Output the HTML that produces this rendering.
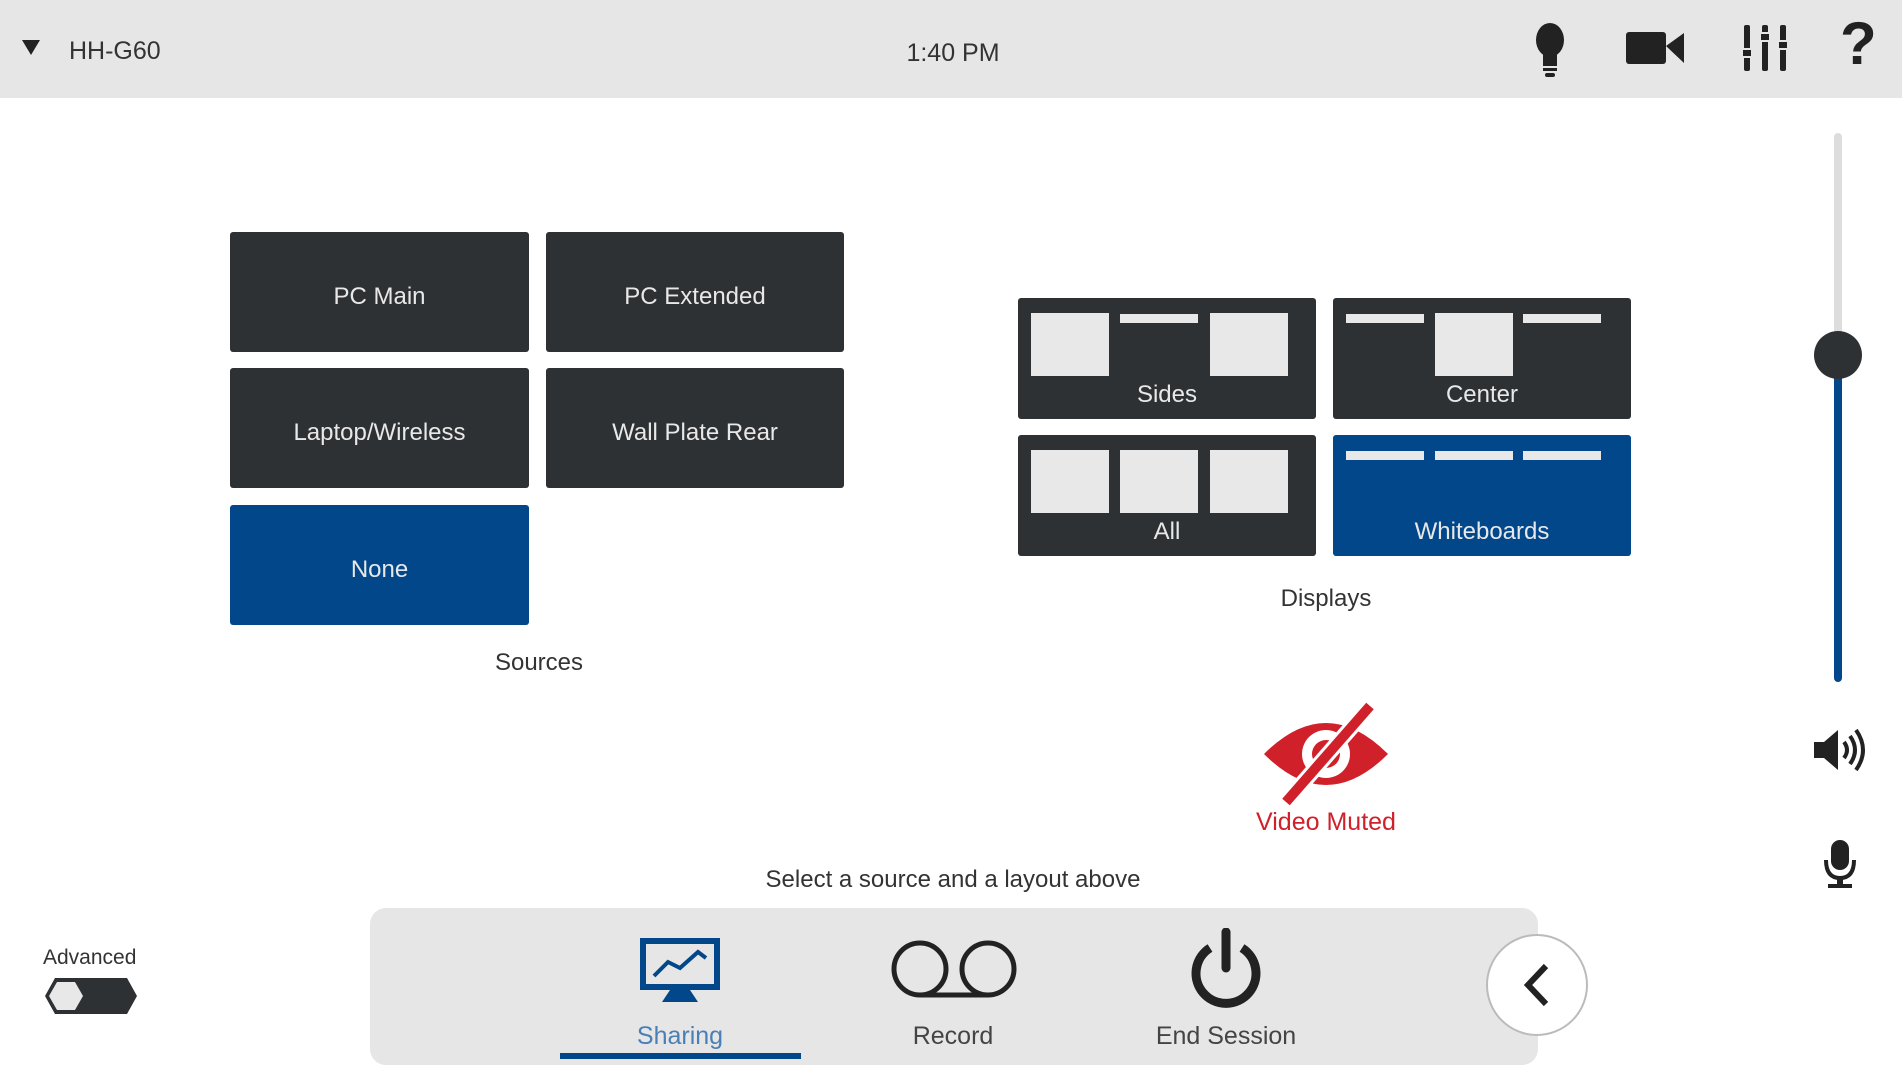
<!DOCTYPE html>
<html><head><meta charset="utf-8"><style>
*{margin:0;padding:0;box-sizing:border-box}
body{width:1902px;height:1076px;background:#fff;position:relative;overflow:hidden;font-family:"Liberation Sans",sans-serif;color:#333}
.abs{position:absolute}
.top{left:0;top:0;width:1902px;height:98px;background:#e6e6e6}
.btn{position:absolute;background:#2e3134;color:#e8e8e8;font-size:24px;display:flex;align-items:center;justify-content:center;border-radius:3px;padding-top:10px}
.blue{background:#02478a}
.d{position:absolute;background:#2e3134;border-radius:3px;width:298px;height:121px;color:#e8e8e8;font-size:24px}
.d.blue{background:#02478a}
.d .l{position:absolute;left:0;right:0;top:83px;text-align:center}
.sq{position:absolute;top:15px;width:78px;height:63px;background:#e8e8e8}
.bar{position:absolute;top:16px;width:78px;height:9px;background:#e8e8e8}
.lbl{position:absolute;font-size:24px;color:#333;text-align:center}
</style></head><body>
<div class="abs top"></div>
<div class="abs" style="left:22px;top:40px;width:0;height:0;border-left:9px solid transparent;border-right:9px solid transparent;border-top:15px solid #222"></div>
<div class="abs" style="left:69px;top:37px;font-size:25px;color:#333">HH-G60</div>
<div class="abs" style="left:853px;width:200px;text-align:center;top:39px;font-size:25px;color:#333">1:40 PM</div>
<svg class="abs" style="left:1530px;top:22px" width="40" height="56"><ellipse cx="20" cy="18" rx="14" ry="17" fill="#222"/><rect x="13" y="30" width="14" height="14" fill="#222"/><rect x="13" y="46" width="14" height="3" fill="#222"/><rect x="15" y="51" width="10" height="4" rx="2" fill="#222"/></svg>
<svg class="abs" style="left:1626px;top:30px" width="60" height="36"><rect x="0" y="2" width="40" height="32" rx="3" fill="#222"/><polygon points="40,16 58,3 58,33" fill="#222"/></svg>
<svg class="abs" style="left:1742px;top:25px" width="48" height="46" fill="#222"><rect x="2" y="0" width="6" height="46" rx="2"/><rect x="20" y="0" width="6" height="46" rx="2"/><rect x="38" y="0" width="6" height="46" rx="2"/><rect x="0" y="24" width="10" height="8" fill="#222" stroke="#e6e6e6" stroke-width="2"/><rect x="18" y="8" width="10" height="8" stroke="#e6e6e6" stroke-width="2"/><rect x="36" y="16" width="10" height="8" stroke="#e6e6e6" stroke-width="2"/></svg>
<div class="abs" style="left:1840px;top:14px;font-size:60px;font-weight:bold;color:#222;line-height:1">?</div>
<div class="btn" style="left:230px;top:232px;width:299px;height:120px">PC Main</div>
<div class="btn" style="left:546px;top:232px;width:298px;height:120px">PC Extended</div>
<div class="btn" style="left:230px;top:368px;width:299px;height:120px">Laptop/Wireless</div>
<div class="btn" style="left:546px;top:368px;width:298px;height:120px">Wall Plate Rear</div>
<div class="btn blue" style="left:230px;top:505px;width:299px;height:120px">None</div>
<div class="lbl" style="left:439px;width:200px;top:649px">Sources</div>
<div class="d" style="left:1018px;top:298px"><div class="sq" style="left:13px"></div><div class="bar" style="left:102px"></div><div class="sq" style="left:192px"></div><div class="l">Sides</div></div>
<div class="d" style="left:1333px;top:298px"><div class="bar" style="left:13px"></div><div class="sq" style="left:102px"></div><div class="bar" style="left:190px"></div><div class="l">Center</div></div>
<div class="d" style="left:1018px;top:435px"><div class="sq" style="left:13px"></div><div class="sq" style="left:102px"></div><div class="sq" style="left:192px"></div><div class="l">All</div></div>
<div class="d blue" style="left:1333px;top:435px"><div class="bar" style="left:13px"></div><div class="bar" style="left:102px"></div><div class="bar" style="left:190px"></div><div class="l">Whiteboards</div></div>
<div class="lbl" style="left:1226px;width:200px;top:585px">Displays</div>
<svg class="abs" style="left:1262px;top:702px" width="128" height="104"><path d="M2 52 Q64 -10 126 52 Q64 114 2 52Z" fill="#d0202a"/><circle cx="64" cy="52" r="24" fill="#fff"/><circle cx="64" cy="52" r="14" fill="#d0202a"/><line x1="108" y1="4" x2="24" y2="100" stroke="#fff" stroke-width="16"/><line x1="108" y1="4" x2="24" y2="100" stroke="#d0202a" stroke-width="10"/></svg>
<div class="abs" style="left:1176px;width:300px;text-align:center;top:808px;font-size:25px;color:#d0202a">Video Muted</div>
<div class="lbl" style="left:653px;width:600px;top:866px">Select a source and a layout above</div>
<div class="abs" style="left:370px;top:908px;width:1168px;height:157px;background:#e6e6e6;border-radius:16px"></div>
<svg class="abs" style="left:640px;top:938px" width="80" height="64"><rect x="3" y="3" width="74" height="46" fill="none" stroke="#02478a" stroke-width="6"/><polyline points="14,38 28,24 40,30 58,14 66,20" fill="none" stroke="#02478a" stroke-width="4"/><polygon points="30,52 50,52 58,64 22,64" fill="#02478a"/></svg>
<div class="abs" style="left:580px;width:200px;text-align:center;top:1022px;font-size:25px;color:#4a7fb5">Sharing</div>
<div class="abs" style="left:560px;top:1053px;width:241px;height:6px;background:#02478a"></div>
<svg class="abs" style="left:890px;top:938px" width="128" height="62"><circle cx="30" cy="31" r="26" fill="none" stroke="#222" stroke-width="5"/><circle cx="98" cy="31" r="26" fill="none" stroke="#222" stroke-width="5"/><line x1="30" y1="57" x2="98" y2="57" stroke="#222" stroke-width="5"/></svg>
<div class="abs" style="left:853px;width:200px;text-align:center;top:1022px;font-size:25px;color:#444">Record</div>
<svg class="abs" style="left:1188px;top:928px" width="76" height="82"><path d="M22 20 A30 30 0 1 0 54 20" fill="none" stroke="#222" stroke-width="9"/><line x1="38" y1="4" x2="38" y2="40" stroke="#222" stroke-width="9" stroke-linecap="round"/></svg>
<div class="abs" style="left:1076px;width:300px;text-align:center;top:1022px;font-size:25px;color:#444">End Session</div>
<div class="abs" style="left:1486px;top:934px;width:102px;height:102px;border-radius:50%;background:#fff;border:2px solid #bbb"></div>
<svg class="abs" style="left:1520px;top:962px" width="34" height="46"><polyline points="26,4 8,23 26,42" fill="none" stroke="#222" stroke-width="6"/></svg>
<div class="abs" style="left:43px;top:946px;font-size:21px;color:#333">Advanced</div>
<svg class="abs" style="left:45px;top:978px" width="92" height="36"><polygon points="10,0 82,0 92,18 82,36 10,36 0,18" fill="#2e3134"/><polygon points="12,4 30,4 38,18 30,32 12,32 4,18" fill="#e8e8e8"/></svg>
<div class="abs" style="left:1834px;top:133px;width:8px;height:225px;background:#ddd;border-radius:4px"></div>
<div class="abs" style="left:1834px;top:355px;width:8px;height:327px;background:#02478a;border-radius:4px"></div>
<div class="abs" style="left:1814px;top:331px;width:48px;height:48px;border-radius:50%;background:#2e3134"></div>
<svg class="abs" style="left:1812px;top:726px" width="54" height="48"><polygon points="2,16 12,16 26,4 26,44 12,32 2,32" fill="#222"/><path d="M32 16 Q38 24 32 32" fill="none" stroke="#222" stroke-width="4"/><path d="M38 10 Q48 24 38 38" fill="none" stroke="#222" stroke-width="4"/><path d="M44 4 Q58 24 44 44" fill="none" stroke="#222" stroke-width="4"/></svg>
<svg class="abs" style="left:1822px;top:838px" width="36" height="52"><rect x="9" y="2" width="18" height="30" rx="9" fill="#222"/><path d="M4 22 Q4 40 18 40 Q32 40 32 22" fill="none" stroke="#222" stroke-width="4"/><rect x="15" y="40" width="6" height="6" fill="#222"/><rect x="6" y="46" width="24" height="4" fill="#222"/></svg>
</body></html>
